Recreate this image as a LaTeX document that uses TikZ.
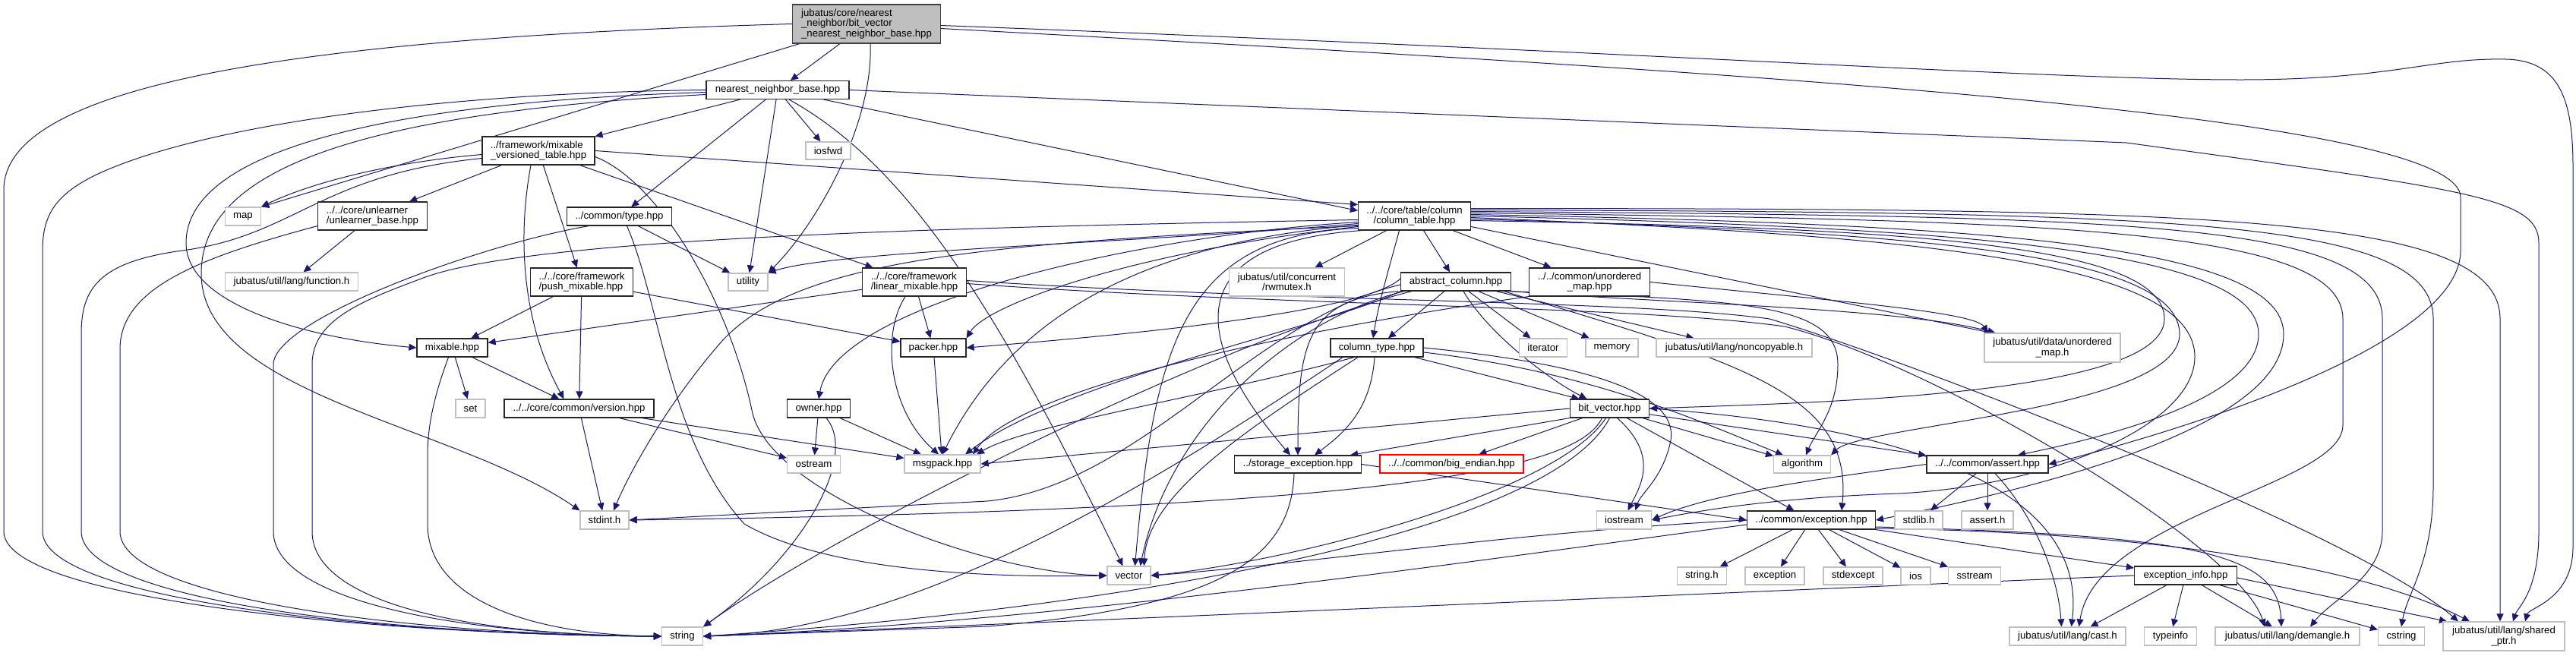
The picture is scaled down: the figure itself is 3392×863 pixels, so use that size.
\documentclass[tikz,border=0pt]{standalone}
\usepackage{fontspec}
\setmainfont{Liberation Sans}
\usetikzlibrary{arrows.meta}
\definecolor{EdgeBlue}{HTML}{191970}
\definecolor{SysGray}{HTML}{BFBFBF}
\definecolor{RootGray}{HTML}{BFBFBF}
\newcommand{\incfont}{\fontsize{13.2}{13.3}\selectfont}
\pgfdeclarelayer{bg}
\pgfdeclarelayer{edges}
\pgfsetlayers{bg,edges,main}
\tikzset{
  incnode/.style={draw=black!85, fill=white, line width=1.2pt, inner sep=0pt, align=center, font=\incfont},
  sysnode/.style={incnode, draw=SysGray},
  rootnode/.style={incnode, fill=RootGray, draw=black!75},
  badnode/.style={incnode, draw=red},
  dep/.style={-{Triangle[length=10pt,width=9pt]}, draw=EdgeBlue, line width=1pt}
}

\begin{document}
\begin{tikzpicture}[x=1pt, y=-1pt]
  \useasboundingbox (0,0) rectangle (3392,863);
  \begin{pgfonlayer}{bg}
    \fill[white] (0,0) rectangle (3392,863);
  \end{pgfonlayer}
  \node[rootnode, minimum width=195pt, minimum height=51pt, align=left] (root) at (1141,31.5) {jubatus/core/nearest\\\_neighbor/bit\_vector\\\_nearest\_neighbor\_base.hpp};
  \node[incnode, minimum width=188pt, minimum height=24pt] (nnb) at (1024,118.5) {nearest\_neighbor\_base.hpp};
  \node[incnode, minimum width=148pt, minimum height=37pt, align=left] (mvt) at (709,198.5) {../framework/mixable\\\_versioned\_table.hpp};
  \node[sysnode, minimum width=59pt, minimum height=23pt] (iosfwd) at (1090.5,198.5) {iosfwd};
  \node[sysnode, minimum width=47pt, minimum height=24pt] (map) at (320,285) {map};
  \node[incnode, minimum width=144pt, minimum height=37pt, align=left] (unlearner) at (490.5,284.5) {../../core/unlearner\\/unlearner\_base.hpp};
  \node[incnode, minimum width=138pt, minimum height=24pt] (type) at (815.5,285) {../common/type.hpp};
  \node[incnode, minimum width=148pt, minimum height=37pt] (coltable) at (1862.5,284.5) {../../core/table/column\\/column\_table.hpp};
  \node[sysnode, minimum width=175pt, minimum height=24pt] (function) at (384,371) {jubatus/util/lang/function.h};
  \node[incnode, minimum width=135pt, minimum height=37pt, align=left] (push) at (766,371.5) {../../core/framework\\/push\_mixable.hpp};
  \node[sysnode, minimum width=52pt, minimum height=23pt] (utility) at (985,371.5) {utility};
  \node[incnode, minimum width=137pt, minimum height=37pt, align=left] (linear) at (1204,371.5) {../../core/framework\\/linear\_mixable.hpp};
  \node[sysnode, minimum width=152pt, minimum height=37pt] (rwmutex) at (1694.5,371.5) {jubatus/util/concurrent\\/rwmutex.h};
  \node[incnode, minimum width=145pt, minimum height=24pt] (abscol) at (1917,371) {abstract\_column.hpp};
  \node[incnode, minimum width=159pt, minimum height=37pt] (umaphpp) at (2093,371.5) {../../common/unordered\\\_map.hpp};
  \node[incnode, minimum width=93pt, minimum height=24pt] (mixable) at (595.5,458) {mixable.hpp};
  \node[incnode, minimum width=86pt, minimum height=24pt] (packer) at (1229,458) {packer.hpp};
  \node[incnode, minimum width=122pt, minimum height=24pt] (coltype) at (1813,458) {column\_type.hpp};
  \node[sysnode, minimum width=63pt, minimum height=24pt] (iterator) at (2032,458) {iterator};
  \node[sysnode, minimum width=69pt, minimum height=24pt] (memory) at (2122.5,458) {memory};
  \node[sysnode, minimum width=205pt, minimum height=24pt] (noncopy) at (2283.5,458) {jubatus/util/lang/noncopyable.h};
  \node[sysnode, minimum width=179pt, minimum height=38pt] (umaph) at (2702.5,458) {jubatus/util/data/unordered\\\_map.h};
  \node[sysnode, minimum width=39pt, minimum height=24pt] (set) at (619.5,538) {set};
  \node[incnode, minimum width=197pt, minimum height=24pt] (version) at (762.5,538) {../../core/common/version.hpp};
  \node[incnode, minimum width=83pt, minimum height=24pt] (owner) at (1078,538) {owner.hpp};
  \node[incnode, minimum width=104pt, minimum height=24pt] (bitvec) at (2119.5,538) {bit\_vector.hpp};
  \node[sysnode, minimum width=70pt, minimum height=23pt] (ostream) at (1071.5,611.5) {ostream};
  \node[sysnode, minimum width=100pt, minimum height=24pt] (msgpack) at (1241,611) {msgpack.hpp};
  \node[incnode, minimum width=167pt, minimum height=23pt] (storexc) at (1709,611.5) {../storage\_exception.hpp};
  \node[badnode, minimum width=189pt, minimum height=24pt] (bigend) at (1911.5,611) {../../common/big\_endian.hpp};
  \node[sysnode, minimum width=75pt, minimum height=23pt] (algorithm) at (2373,611.5) {algorithm};
  \node[incnode, minimum width=160pt, minimum height=23pt] (assert) at (2617,611.5) {../../common/assert.hpp};
  \node[sysnode, minimum width=64pt, minimum height=24pt] (stdint) at (796,685) {stdint.h};
  \node[sysnode, minimum width=72pt, minimum height=24pt] (iostream) at (2138.5,685) {iostream};
  \node[incnode, minimum width=169pt, minimum height=24pt] (exception) at (2385,685) {../common/exception.hpp};
  \node[sysnode, minimum width=63pt, minimum height=24pt] (stdlib) at (2526.5,685) {stdlib.h};
  \node[sysnode, minimum width=68pt, minimum height=24pt] (asserth) at (2617,685) {assert.h};
  \node[sysnode, minimum width=57pt, minimum height=24pt] (vector) at (1486.5,758) {vector};
  \node[sysnode, minimum width=65pt, minimum height=23pt] (stringh) at (2241,758.5) {string.h};
  \node[sysnode, minimum width=78pt, minimum height=23pt] (exc) at (2337,758.5) {exception};
  \node[sysnode, minimum width=78pt, minimum height=23pt] (stdexcept) at (2440,758.5) {stdexcept};
  \node[sysnode, minimum width=39pt, minimum height=23pt] (ios) at (2522.5,758.5) {ios};
  \node[sysnode, minimum width=69pt, minimum height=23pt] (sstream) at (2600,758.5) {sstream};
  \node[incnode, minimum width=135pt, minimum height=24pt] (excinfo) at (2878,758) {exception\_info.hpp};
  \node[sysnode, minimum width=54pt, minimum height=24pt] (string) at (898.5,838) {string};
  \node[sysnode, minimum width=153pt, minimum height=24pt] (cast) at (2722.5,838) {jubatus/util/lang/cast.h};
  \node[sysnode, minimum width=69pt, minimum height=24pt] (typeinfo) at (2858,838) {typeinfo};
  \node[sysnode, minimum width=190pt, minimum height=24pt] (demangle) at (3012,838) {jubatus/util/lang/demangle.h};
  \node[sysnode, minimum width=61pt, minimum height=24pt] (cstring) at (3162,838) {cstring};
  \node[sysnode, minimum width=160pt, minimum height=38pt] (sharedptr) at (3297,838) {jubatus/util/lang/shared\\\_ptr.h};
  \begin{pgfonlayer}{edges}
  \draw[dep] (root) -- (nnb);
  \draw[dep] ([xshift=10pt]root.south west) -- (map.north east);
  \draw[dep] (root.west) .. controls (400,50) and (5,110) .. (5,250) -- (5,700) .. controls (5,790) and (500,836) .. (string.west);
  \draw[dep] ([xshift=5pt]root.south) .. controls (1150,160) and (1080,290) .. (utility.north east);
  \draw[dep] ([yshift=-2pt]root.east) .. controls (2200,70) and (2700,105) .. (2950,105) .. controls (3150,105) and (3200,76) .. (3300,78) .. controls (3370,80) and (3388,130) .. (3388,220) -- (3388,720) .. controls (3388,790) and (3330,800) .. ([xshift=28pt]sharedptr.north);
  \draw[dep] ([yshift=-6pt]root.east) .. controls (2300,95) and (3240,150) .. (3240,260) -- (3240,330) .. controls (3240,450) and (2900,560) .. (assert.east);
  \draw[dep] (nnb) -- (mvt);
  \draw[dep] (nnb) -- (iosfwd);
  \draw[dep] (nnb) -- (type);
  \draw[dep] (nnb) -- (utility);
  \draw[dep] (nnb) -- ([yshift=7pt]coltable.west);
  \draw[dep] (nnb.west) .. controls (600,122) and (300,160) .. (150,220) .. controls (75,250) and (56,280) .. (56,330) -- (56,700) .. controls (56,790) and (500,836) .. (string.west);
  \draw[dep] ([yshift=-3pt]nnb.west) .. controls (500,135) and (245,200) .. (245,320) .. controls (245,400) and (400,445) .. (mixable.west);
  \draw[dep] ([yshift=-6pt]nnb.west) .. controls (450,150) and (265,230) .. (265,360) .. controls (265,520) and (600,560) .. (stdint.north west);
  \draw[dep] ([xshift=15pt]nnb.south) .. controls (1200,220) and (1320,420) .. ([xshift=-8pt]vector.north);
  \draw[dep] (nnb.east) -- (2800,188) .. controls (3250,250) and (3343,260) .. (3343,320) -- (3343,700) .. controls (3343,780) and (3315,800) .. ([xshift=12pt]sharedptr.north);
  \draw[dep] (mvt) -- (unlearner);
  \draw[dep] (mvt) -- (push);
  \draw[dep] (mvt) -- (linear);
  \draw[dep] (mvt.east) -- ([yshift=15pt]coltable.west);
  \draw[dep] ([yshift=-5pt]mvt.west) .. controls (500,215) and (400,245) .. (map.north east);
  \draw[dep] ([yshift=-10pt]mvt.west) .. controls (420,230) and (390,310) .. (240,330) .. controls (130,345) and (107,380) .. (107,440) -- (107,700) .. controls (107,790) and (500,836) .. (string.west);
  \draw[dep] ([xshift=-10pt]mvt.south) .. controls (680,320) and (690,430) .. ([xshift=-20pt]version.north);
  \draw[dep] ([yshift=-8pt]mvt.east) .. controls (870,240) and (960,400) .. (990,540) .. controls (1010,650) and (1300,755) .. (vector.west);
  \draw[dep] (unlearner) -- (function);
  \draw[dep] ([yshift=6pt]unlearner.south west) .. controls (260,340) and (158,380) .. (158,460) -- (158,700) .. controls (158,790) and (550,836) .. (string.west);
  \draw[dep] (type) -- (utility);
  \draw[dep] ([xshift=-40pt]type.south) .. controls (640,320) and (360,420) .. (360,480) -- (360,700) .. controls (360,790) and (600,836) .. (string.west);
  \draw[dep] ([xshift=10pt]type.south) .. controls (870,400) and (880,580) .. (980,690) .. controls (1100,760) and (1350,760) .. (vector.west);
  \draw[dep] (push) -- (mixable);
  \draw[dep] (push) -- (version);
  \draw[dep] (push) -- (packer);
  \draw[dep] (linear) -- (mixable);
  \draw[dep] (linear) -- (packer);
  \draw[dep] ([xshift=-12pt]linear.south) .. controls (1160,440) and (1170,540) .. ([xshift=-5pt]msgpack.north);
  \draw[dep] ([yshift=2pt]linear.east) .. controls (1700,398) and (2150,395) .. (2330,420) .. controls (2500,470) and (3100,700) .. ([xshift=-60pt]sharedptr.north);
  \draw[dep] ([yshift=-2pt]linear.east) .. controls (1700,404) and (2150,402) .. (2350,430) .. controls (2550,480) and (2950,720) .. ([xshift=-30pt]demangle.north);
  \draw[dep] (mixable) -- (set);
  \draw[dep] (mixable) -- (version);
  \draw[dep] ([xshift=-5pt]mixable.south) .. controls (572,520) and (563,560) .. (563,600) -- (563,690) .. controls (563,790) and (700,836) .. (string.west);
  \draw[dep] (version) -- (stdint);
  \draw[dep] (version) -- (ostream);
  \draw[dep] (version) -- (msgpack);
  \draw[dep] (owner) -- (ostream);
  \draw[dep] ([xshift=10pt]owner.south) .. controls (1130,600) and (1060,730) .. (string.north east);
  \draw[dep] (owner) -- (msgpack);
  \draw[dep] (packer) -- (msgpack);
  \draw[dep] (coltable) -- (rwmutex);
  \draw[dep] (coltable) -- (abscol);
  \draw[dep] (coltable) -- (umaphpp);
  \draw[dep] ([xshift=-20pt]coltable.south) .. controls (1830,350) and (1815,400) .. ([xshift=-5pt]coltype.north);
  \draw[dep] ([yshift=-8pt]coltable.west) .. controls (1500,310) and (1100,400) .. (owner.north);
  \draw[dep] ([yshift=-10pt]coltable.west) .. controls (1500,320) and (1100,330) .. (utility.north east);
  \draw[dep] ([yshift=-5pt]coltable.west) .. controls (1200,300) and (700,315) .. (560,365) .. controls (480,395) and (411,420) .. (411,480) -- (411,700) .. controls (411,790) and (600,836) .. (string.west);
  \draw[dep] ([yshift=-12pt]coltable.west) .. controls (1500,320) and (1330,420) .. (msgpack.north);
  \draw[dep] ([yshift=-14pt]coltable.west) .. controls (1500,330) and (1300,400) .. (packer.north east);
  \draw[dep] ([yshift=-16pt]coltable.west) .. controls (1560,310) and (1520,450) .. ([xshift=8pt]vector.north);
  \draw[dep] ([xshift=-70pt]coltable.south) .. controls (1550,320) and (1570,450) .. ([xshift=-10pt]storexc.north);
  \draw[dep] ([yshift=-13pt]coltable.west) .. controls (1300,320) and (1050,340) .. (950,450) .. controls (880,530) and (830,620) .. ([xshift=12pt]stdint.north);
  \draw[dep] ([yshift=-14pt]coltable.east) -- ([xshift=-80pt]umaph.north);
  \draw[dep] ([yshift=-6pt]coltable.east) .. controls (2500,300) and (2850,320) .. (2850,420) .. controls (2850,520) and (2400,530) .. (bitvec.east);
  \draw[dep] ([yshift=-4pt]coltable.east) .. controls (2500,305) and (2870,330) .. (2870,440) .. controls (2870,540) and (2450,560) .. (algorithm.north east);
  \draw[dep] ([yshift=-2pt]coltable.east) .. controls (2500,310) and (2890,340) .. (2890,470) .. controls (2890,560) and (2700,640) .. (2500,650) .. controls (2350,655) and (2250,670) .. (iostream.east);
  \draw[dep] (coltable.east) .. controls (2600,300) and (2974,330) .. (2974,440) .. controls (2974,520) and (2800,570) .. ([xshift=40pt]assert.north);
  \draw[dep] ([yshift=2pt]coltable.east) .. controls (2600,295) and (3007,320) .. (3007,440) .. controls (3007,560) and (2700,640) .. (exception.east);
  \draw[dep] ([yshift=4pt]coltable.east) .. controls (2700,290) and (3085,300) .. (3085,420) -- (3085,560) .. controls (3085,640) and (2760,680) .. ([xshift=15pt]cast.north);
  \draw[dep] ([yshift=6pt]coltable.east) .. controls (2800,285) and (3137,290) .. (3137,420) -- (3137,700) .. controls (3137,760) and (3070,790) .. ([xshift=30pt]demangle.north);
  \draw[dep] ([yshift=8pt]coltable.east) .. controls (2850,280) and (3204,285) .. (3204,420) -- (3204,640) .. controls (3204,740) and (3170,780) .. (cstring.north);
  \draw[dep] ([yshift=10pt]coltable.east) .. controls (2900,275) and (3292,280) .. (3292,420) -- (3292,780) -- ([xshift=-5pt]sharedptr.north);
  \draw[dep] ([yshift=4pt]abscol.west) .. controls (1800,410) and (1500,440) .. (packer.east);
  \draw[dep] (abscol.south west) .. controls (1750,430) and (1400,500) .. ([xshift=30pt]msgpack.north);
  \draw[dep] ([xshift=15pt]abscol.south west) .. controls (1600,450) and (1100,700) .. (string.north east);
  \draw[dep] ([xshift=5pt]abscol.south west) .. controls (1700,420) and (1540,560) .. ([xshift=15pt]vector.north);
  \draw[dep] ([xshift=-3pt]abscol.south west) .. controls (1720,395) and (1709,450) .. (storexc.north);
  \draw[dep] ([yshift=-4pt]abscol.west) .. controls (1650,420) and (1500,640) .. (1300,660) -- (stdint.east);
  \draw[dep] (abscol) -- ([xshift=15pt]coltype.north);
  \draw[dep] ([xshift=10pt]abscol.south) .. controls (1960,440) and (2040,500) .. ([xshift=-30pt]bitvec.north);
  \draw[dep] (abscol) -- (iterator);
  \draw[dep] (abscol) -- (memory);
  \draw[dep] (abscol) -- (noncopy);
  \draw[dep] (abscol.south east) .. controls (2200,400) and (2500,405) .. ([xshift=-75pt]umaph.north);
  \draw[dep] ([xshift=-5pt]abscol.south east) .. controls (2300,395) and (2420,400) .. (2420,480) .. controls (2420,540) and (2390,570) .. ([xshift=5pt]algorithm.north);
  \draw[dep] ([xshift=-10pt]abscol.south east) .. controls (2300,480) and (2440,520) .. ([xshift=40pt]exception.north);
  \draw[dep] (umaphpp.east) .. controls (2400,395) and (2600,410) .. ([xshift=-85pt]umaph.north);
  \draw[dep] (umaphpp.south west) .. controls (1800,420) and (1350,500) .. ([xshift=40pt]msgpack.north);
  \draw[dep] (coltype) -- ([xshift=-40pt]bitvec.north);
  \draw[dep] ([xshift=-3pt]coltype.south) .. controls (1805,540) and (1770,570) .. ([xshift=22pt]storexc.north);
  \draw[dep] ([xshift=-30pt]coltype.south) .. controls (1600,520) and (1350,560) .. ([xshift=45pt]msgpack.north);
  \draw[dep] ([xshift=-25pt]coltype.south) .. controls (1650,560) and (1510,650) .. ([xshift=20pt]vector.north);
  \draw[dep] ([xshift=-45pt]coltype.south) .. controls (1500,650) and (1200,830) .. (string.east);
  \draw[dep] (coltype.east) .. controls (2100,480) and (2210,520) .. (2200,580) .. controls (2190,630) and (2160,650) .. ([xshift=15pt]iostream.north);
  \draw[dep] ([yshift=-6pt]coltype.east) .. controls (2100,490) and (2250,560) .. ([xshift=-25pt]algorithm.north);
  \draw[dep] (bitvec.south west) -- ([xshift=-15pt]storexc.north east);
  \draw[dep] (bitvec) -- (bigend);
  \draw[dep] ([xshift=10pt]bitvec.south) .. controls (2185,600) and (2160,640) .. ([xshift=5pt]iostream.north);
  \draw[dep] (bitvec.west) -- (msgpack.east);
  \draw[dep] ([xshift=-10pt]bitvec.south) .. controls (2080,610) and (1900,670) .. (stdint.east);
  \draw[dep] ([xshift=-5pt]bitvec.south) .. controls (2050,650) and (1700,740) .. (vector.east);
  \draw[dep] (bitvec.south) .. controls (2040,700) and (1500,800) .. (string.east);
  \draw[dep] (bitvec) -- (algorithm);
  \draw[dep] (bitvec) -- (assert);
  \draw[dep] (bitvec) -- (exception);
  \draw[dep] (bitvec.east) .. controls (2500,560) and (2750,640) .. ([xshift=5pt]cast.north);
  \draw[dep] (storexc.east) -- (exception.west);
  \draw[dep] ([xshift=-5pt]storexc.south) .. controls (1700,740) and (1600,800) .. (1300,825) -- (string.east);
  \draw[dep] (assert) -- (stdlib);
  \draw[dep] (assert) -- (asserth);
  \draw[dep] ([xshift=10pt]assert.south) .. controls (2680,680) and (2710,760) .. ([xshift=-8pt]cast.north);
  \draw[dep] (assert.west) .. controls (2400,630) and (2250,650) .. (iostream.east);
  \draw[dep] (exception) -- (stringh);
  \draw[dep] (exception) -- (exc);
  \draw[dep] (exception) -- (stdexcept);
  \draw[dep] (exception) -- (ios);
  \draw[dep] (exception) -- (sstream);
  \draw[dep] (exception) -- (excinfo);
  \draw[dep] (exception.west) .. controls (2000,700) and (1700,745) .. (vector.east);
  \draw[dep] ([yshift=-6pt]exception.west) .. controls (2000,730) and (1400,820) .. (string.east);
  \draw[dep] ([yshift=-9pt]exception.east) .. controls (2900,705) and (3000,730) .. ([xshift=-8pt]demangle.north);
  \draw[dep] ([yshift=-11pt]exception.east) .. controls (2800,700) and (3100,740) .. ([xshift=-45pt]sharedptr.north);
  \draw[dep] (excinfo) -- (typeinfo);
  \draw[dep] (excinfo) -- ([xshift=-20pt]demangle.north);
  \draw[dep] (excinfo) -- (cstring);
  \draw[dep] ([yshift=-3pt]excinfo.east) -- ([xshift=-75pt]sharedptr.north);
  \draw[dep] ([xshift=-25pt]excinfo.south) -- ([xshift=30pt]cast.north);
  \draw[dep] (excinfo.west) .. controls (2400,775) and (1500,815) .. (string.east);
  \end{pgfonlayer}
\end{tikzpicture}
\end{document}
